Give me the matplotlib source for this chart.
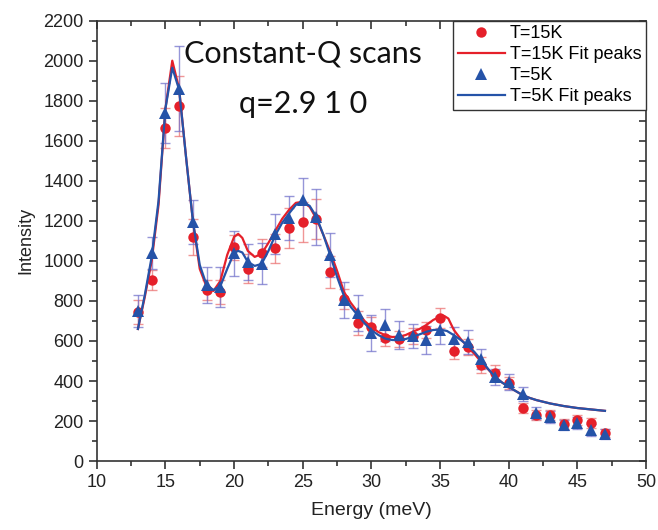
import numpy as np
import matplotlib
matplotlib.use("Agg")
import matplotlib.pyplot as plt
from matplotlib.ticker import MultipleLocator, NullFormatter

# Measured constant-Q scan data
energy = list(range(13, 48))

i_15k = [745, 904, 1664, 1772, 1117, 857, 845, 1067, 962, 1040, 1062, 1162, 1195, 1207,
         945, 812, 690, 670, 617, 612, 624, 657, 717, 551, 571, 479, 438, 391, 266, 230,
         230, 185, 205, 191, 138]
err_15k = [60, 50, 100, 150, 90, 50, 60, 60, 70, 70, 70, 100, 100, 100,
           80, 50, 60, 50, 40, 40, 40, 40, 50, 40, 40, 40, 40, 30, 25, 25,
           25, 25, 25, 25, 20]

i_5k = [749, 1040, 1739, 1861, 1195, 882, 870, 1037, 995, 987, 1133, 1212, 1303, 1220,
        1028, 807, 741, 640, 679, 629, 624, 604, 654, 612, 596, 508, 421, 396, 334, 241,
        218, 180, 188, 155, 135]
err_5k = [80, 80, 150, 210, 110, 90, 100, 110, 90, 100, 100, 110, 110, 140,
          110, 90, 90, 90, 80, 70, 60, 70, 70, 60, 60, 50, 40, 40, 35, 30,
          30, 25, 30, 30, 25]

# Peak-fit curves
fit_e_15k = [13, 13.5, 14, 14.5, 15, 15.5, 16, 16.5, 17, 17.5, 18, 18.5, 19, 19.5, 20,
             20.3, 20.6, 21, 21.5, 22, 22.5, 23, 23.5, 24, 24.5, 25, 25.5, 26, 26.5, 27,
             27.5, 28, 28.5, 29, 29.5, 30, 30.5, 31, 31.5, 32, 32.5, 33, 33.5, 34, 34.5,
             35, 35.3, 35.6, 36, 36.5, 37, 37.5, 38, 38.5, 39, 39.5, 40, 40.5, 41, 41.5,
             42, 43, 44, 45, 46, 47]
fit_i_15k = [660, 820, 1000, 1280, 1760, 2000, 1860, 1520, 1200, 960, 870, 850, 900, 1030, 1120,
             1135, 1115, 1050, 1020, 1035, 1090, 1150, 1210, 1255, 1290, 1295, 1270, 1210, 1130, 1045,
             950, 845, 790, 745, 700, 670, 645, 629, 620, 621, 630, 646, 660, 680, 705,
             722, 725, 712, 655, 610, 571, 535, 496, 458, 421, 393, 371, 350, 330, 316,
             305, 288, 275, 265, 258, 251]

fit_e_5k = [13, 13.5, 14, 14.5, 15, 15.5, 16, 16.5, 17, 17.5, 18, 18.5, 19, 19.5, 20,
            20.3, 20.6, 21, 21.5, 22, 22.5, 23, 23.5, 24, 24.5, 25, 25.5, 26, 26.5, 27,
            27.5, 28, 28.5, 29, 29.5, 30, 30.5, 31, 31.5, 32, 32.5, 33, 33.5, 34, 34.5,
            35, 35.5, 36, 36.5, 37, 37.5, 38, 38.5, 39, 39.5, 40, 40.5, 41, 41.5,
            42, 43, 44, 45, 46, 47]
fit_i_5k = [660, 830, 1020, 1300, 1760, 1965, 1855, 1520, 1200, 980, 879, 855, 874, 960, 1040,
            1050, 1042, 995, 975, 985, 1050, 1128, 1190, 1237, 1280, 1295, 1275, 1220, 1130, 1028,
            920, 825, 770, 729, 688, 654, 630, 612, 605, 604, 610, 621, 633, 646, 655,
            657, 650, 629, 605, 579, 545, 504, 460, 421, 393, 371, 350, 330, 316,
            305, 288, 275, 265, 258, 251]

RED = "#e5202a"
BLUE = "#2553a8"
AXC = "#333333"

plt.rcParams["font.family"] = ["Liberation Sans", "DejaVu Sans"]

fig = plt.figure(figsize=(6.58, 5.30), dpi=100)
ax = fig.add_axes([0.147, 0.130, 0.835, 0.831])

ax.errorbar(energy, i_15k, yerr=err_15k, fmt="none", ecolor=(0.92, 0.45, 0.45, 0.75),
            elinewidth=1.0, capsize=3.5, capthick=1.0, zorder=2)
ax.plot(energy, i_15k, "o", color=RED, markersize=7.5, markeredgewidth=0,
        label="T=15K", zorder=3)

ax.errorbar(energy, i_5k, yerr=err_5k, fmt="none", ecolor=(0.45, 0.45, 0.8, 0.75),
            elinewidth=1.0, capsize=3.5, capthick=1.0, zorder=2)

ax.plot(fit_e_15k, fit_i_15k, "-", color=RED, lw=1.6, label="T=15K Fit peaks", zorder=4)
ax.plot(energy, i_5k, "^", color=BLUE, markersize=8.5, markeredgewidth=0,
        label="T=5K", zorder=5)
ax.plot(fit_e_5k, fit_i_5k, "-", color=BLUE, lw=1.6, label="T=5K Fit peaks", zorder=6)

ax.set_xlim(10, 50)
ax.set_ylim(0, 2200)
ax.xaxis.set_major_locator(MultipleLocator(5))
ax.xaxis.set_minor_locator(MultipleLocator(2.5))
ax.yaxis.set_major_locator(MultipleLocator(200))
ax.yaxis.set_minor_locator(MultipleLocator(100))

for s in ax.spines.values():
    s.set_color(AXC)
    s.set_linewidth(1.2)

ax.tick_params(axis="both", which="major", direction="out", length=6, width=1.2,
               color=AXC, labelsize=13, labelcolor="#222222")
ax.tick_params(axis="both", which="minor", direction="out", length=3.5, width=1.2,
               color=AXC)

# inward-pointing mirror ticks on the top and right edges
top = ax.secondary_xaxis("top")
top.xaxis.set_major_locator(MultipleLocator(5))
top.xaxis.set_minor_locator(MultipleLocator(2.5))
top.xaxis.set_major_formatter(NullFormatter())
top.tick_params(which="major", direction="in", length=6, width=1.2, color=AXC)
top.tick_params(which="minor", direction="in", length=3.5, width=1.2, color=AXC)
top.spines["top"].set_visible(False)

right = ax.secondary_yaxis("right")
right.yaxis.set_major_locator(MultipleLocator(200))
right.yaxis.set_minor_locator(MultipleLocator(100))
right.yaxis.set_major_formatter(NullFormatter())
right.tick_params(which="major", direction="in", length=5, width=1.2, color=AXC)
right.tick_params(which="minor", direction="in", length=5, width=1.2, color=AXC)
right.spines["right"].set_visible(False)

ax.set_xlabel("Energy (meV)", fontsize=14, color="#222222", labelpad=8)
ax.set_ylabel("Intensity", fontsize=13, color="#222222", labelpad=6)

ax.text(0.375, 0.925, "Constant-Q scans", transform=ax.transAxes, fontsize=22,
        family=["Lato", "DejaVu Sans"], ha="center", va="center", color="#111111")
ax.text(0.375, 0.81, "q=2.9 1 0", transform=ax.transAxes, fontsize=22,
        family=["Lato", "DejaVu Sans"], ha="center", va="center", color="#111111")

leg = ax.legend(loc="upper right", fontsize=13, frameon=True, fancybox=False,
                handlelength=2.6, handletextpad=0.3, labelspacing=0.22,
                borderpad=0.25, borderaxespad=0.0, framealpha=1)
leg.get_frame().set_edgecolor(AXC)
leg.get_frame().set_linewidth(1.0)
leg.set_zorder(10)

fig.savefig("out.png", dpi=100)
